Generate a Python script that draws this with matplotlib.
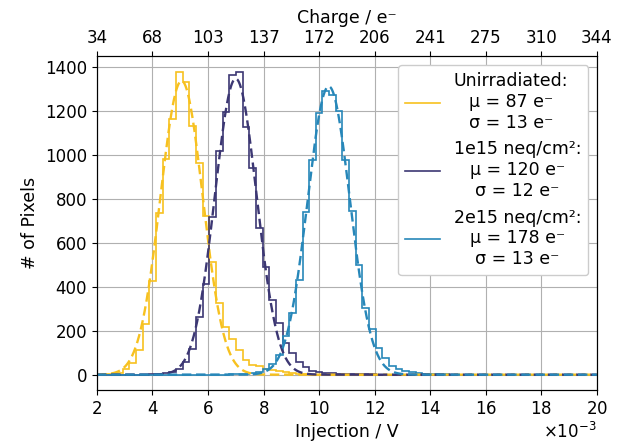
import numpy as np
import matplotlib
matplotlib.use("Agg")
import matplotlib.pyplot as plt

# ---- data (injection in mV, histogram bins of 0.24 mV) ----
bin_start_mV = 1.964
bin_width_mV = 0.24
n_bins = 76

labels = ["Unirradiated:\nμ = 87 e⁻\nσ = 13 e⁻",
          "1e15 neq/cm²:\nμ = 120 e⁻\nσ = 12 e⁻",
          "2e15 neq/cm²:\nμ = 178 e⁻\nσ = 13 e⁻"]
colors = ["#f7c11f", "#3c3773", "#2787b9"]

# first non-empty bin index and counts per series
unirr_first = 1
unirr_counts = [1, 2, 6, 24, 52, 112, 230, 427, 736, 980, 1164, 1377, 1332, 1132,
                961, 723, 514, 327, 218, 160, 112, 68, 45, 40, 24, 20, 17, 12, 8, 5, 3]
irr1_first = 8
irr1_counts = [2, 4, 8, 14, 26, 59, 115, 264, 412, 715, 1018, 1195, 1362, 1377,
               1127, 938, 665, 488, 339, 233, 145, 100, 59, 33, 18, 12, 9, 7, 5, 4,
               3, 2, 2, 1]
irr2_first = 20
irr2_counts = [2, 3, 5, 8, 14, 24, 49, 90, 176, 279, 430, 741, 976, 1191, 1291,
               1273, 1200, 976, 745, 499, 302, 206, 120, 74, 40, 27, 18, 10, 6, 4,
               3, 2, 1]

# gaussian fit parameters (amplitude, mean mV, sigma mV)
fit_amp = [1335, 1345, 1310]
fit_mu = [5.05, 7.0, 10.35]
fit_sigma = [0.76, 0.75, 0.76]

xticks_mV = [2, 4, 6, 8, 10, 12, 14, 16, 18, 20]
charge_ticklabels = ["34", "68", "103", "137", "172", "206", "241", "275", "310", "344"]
yticks = [0, 200, 400, 600, 800, 1000, 1200, 1400]

# ---- figure ----
fig = plt.figure(figsize=(6.21, 4.41), dpi=100)
ax = fig.add_axes([0.156, 0.116, 0.805, 0.756])

edges_V = (bin_start_mV + bin_width_mV * np.arange(n_bins + 1)) * 1e-3
firsts = [unirr_first, irr1_first, irr2_first]
counts_list = [unirr_counts, irr1_counts, irr2_counts]

xfit = np.linspace(2, 20, 2000)
for i in range(3):
    full = np.zeros(n_bins)
    c = np.array(counts_list[i], dtype=float)
    full[firsts[i]:firsts[i] + len(c)] = c
    ax.stairs(full, edges_V, color=colors[i], lw=1.2, label=labels[i], zorder=3)
for i in range(3):
    yfit = fit_amp[i] * np.exp(-0.5 * ((xfit - fit_mu[i]) / fit_sigma[i]) ** 2)
    ax.plot(xfit * 1e-3, yfit, color=colors[i], lw=1.7, ls=(0, (4, 2)), zorder=4)

ax.set_xlim(2e-3, 20e-3)
ax.set_ylim(-69, 1446)
ax.set_xticks([v * 1e-3 for v in xticks_mV])
ax.set_yticks(yticks)
ax.ticklabel_format(axis='x', style='sci', scilimits=(-3, -3), useMathText=True)
ax.grid(True, color="#b0b0b0", lw=0.8)
ax.set_axisbelow(True)
ax.tick_params(labelsize=12)
ax.xaxis.get_offset_text().set_fontsize(12)
ax.set_xlabel("Injection / V", fontsize=12.5)
ax.set_ylabel("# of Pixels", fontsize=12.5)

ax2 = ax.twiny()
ax2.set_xlim(ax.get_xlim())
ax2.set_xticks([v * 1e-3 for v in xticks_mV])
ax2.set_xticklabels(charge_ticklabels)
ax2.tick_params(labelsize=12)
ax2.set_xlabel("Charge / e⁻", fontsize=12.5)

leg = ax.legend(loc="upper right", fontsize=12.5, framealpha=1.0,
                borderaxespad=0.5)
for t in leg.get_texts():
    t.set_multialignment("center")

fig.savefig("out.png", dpi=100)
